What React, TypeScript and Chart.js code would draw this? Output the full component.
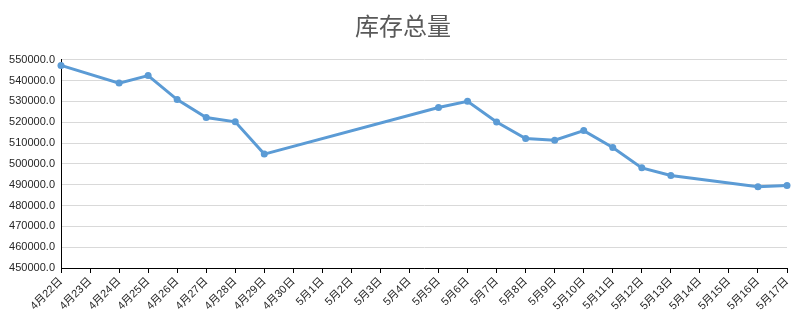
import React, { useEffect, useRef } from "react";
import { Chart, registerables } from "chart.js";

Chart.register(...registerables);

const title = "库存总量";
const categories = [
  "4月22日", "4月23日", "4月24日", "4月25日", "4月26日", "4月27日", "4月28日", "4月29日", "4月30日",
  "5月1日", "5月2日", "5月3日", "5月4日", "5月5日", "5月6日", "5月7日", "5月8日", "5月9日",
  "5月10日", "5月11日", "5月12日", "5月13日", "5月14日", "5月15日", "5月16日", "5月17日",
];
const inventory: (number | null)[] = [
  547300, null, 538800, 542400, 530900, 522300, 520200, 504700, null,
  null, null, null, null, 527100, 530100, 520100, 512200, 511400,
  516000, 507900, 498100, 494400, null, null, 489000, 489600,
];
const yMin = 450000;
const yMax = 550000;
const yStep = 10000;

const labelFont = { family: "'Liberation Sans', 'Noto Sans CJK SC', sans-serif", size: 11 };

export default function App() {
  const ref = useRef<HTMLCanvasElement | null>(null);
  useEffect(() => {
    if (!ref.current) return;
    const chart = new Chart(ref.current, {
      type: "line",
      data: {
        labels: categories,
        datasets: [
          {
            data: inventory,
            borderColor: "#5B9BD5",
            backgroundColor: "#5B9BD5",
            borderWidth: 3,
            pointRadius: 3.5,
            pointBorderWidth: 0,
            pointBackgroundColor: "#5B9BD5",
            spanGaps: true,
            tension: 0,
          },
        ],
      },
      options: {
        animation: false,
        responsive: false,
        layout: { padding: { left: 0, right: 0, top: 0, bottom: 0 } },
        plugins: {
          legend: { display: false },
          tooltip: { enabled: false },
          title: {
            display: true,
            text: title,
            color: "#595959",
            font: { family: "'Noto Sans CJK SC', sans-serif", size: 24, weight: "normal" },
            padding: { top: 11, bottom: 20 },
          },
        },
        scales: {
          x: {
            offset: false,
            grid: {
              display: true,
              drawOnChartArea: false,
              drawTicks: true,
              tickLength: 5,
              color: "#000000",
            },
            border: { display: true, color: "#000000", width: 1 },
            ticks: {
              autoSkip: false,
              maxRotation: 45,
              minRotation: 45,
              color: "#262626",
              font: labelFont,
              padding: 2,
            },
            afterFit: (s: any) => {
              s.height = 62;
              s.paddingLeft = 0;
              s.paddingRight = 19;
            },
          },
          y: {
            min: yMin,
            max: yMax,
            grid: { color: "#d9d9d9", drawTicks: false, lineWidth: 1 },
            border: { display: true, color: "#000000", width: 1 },
            ticks: {
              stepSize: yStep,
              color: "#262626",
              font: labelFont,
              padding: 6,
              callback: (v: any) => Number(v).toFixed(1),
            },
            afterFit: (s: any) => {
              s.width = 61;
              s.paddingTop = 0;
              s.paddingBottom = 0;
            },
          },
        },
      },
    });
    return () => chart.destroy();
  }, []);
  return (
    <div style={{ position: "fixed", left: 0, top: 0, width: 806, height: 330, background: "#fff" }}>
      <canvas ref={ref} width={806} height={330} style={{ width: 806, height: 330 }} />
    </div>
  );
}
